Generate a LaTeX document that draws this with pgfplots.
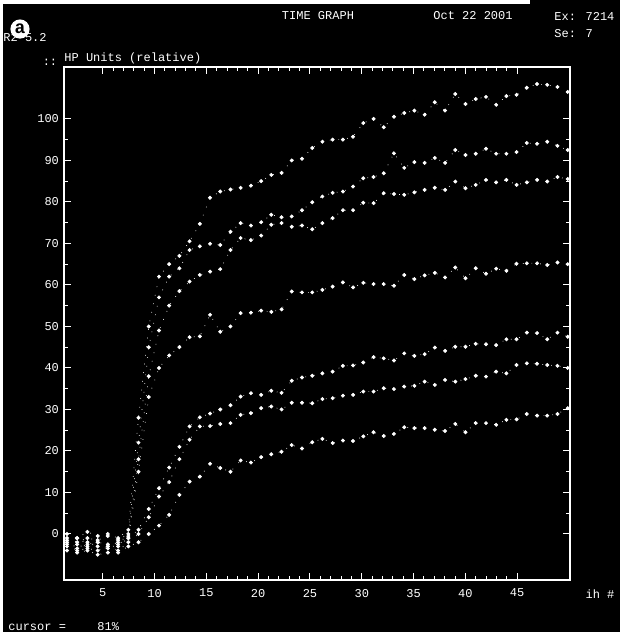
\documentclass[border=0pt]{standalone}
\usepackage{pgfplots}
\pgfplotsset{compat=1.18}
\usepackage{pgfplotstable}
\usepackage{fontspec}
\setmainfont{Liberation Mono}

% relative HP units of 7 traces
\pgfplotstableread{
x     A     B     C     D     E     F     G
1.55  0     -1    -2    -3    -1.5  -2.5  -4
2.53  -1    -2    -1    -2.5  -3.5  -4    -4.5
3.52  0.5   -1    -2.5  -3    -2    -3.5  -4
4.51  -0.5  -1.5  -2    -2    -3    -4    -5
5.49  0     -0.5  -3    -2.5  -3.5  -3    -4.5
6.48  -1    -1.5  -2    -3    -2.5  -4    -4.5
7.47  1     0     -0.5  -1    -1    -2    -3
8.45  28    22    18    15    1     0     -2
9.44  50    45    38    33    6     4     0
10.43 62    57    49    40    11    9     2
11.41 65    62    55    43    16    12.5  4.6
12.40 67    64    58.5  45    21    18    9.4
13.38 70.5  68.4  60.8  47.4  25.9  22.7  12.6
14.37 74.7  69.3  62.4  47.6  28.1  25.9  13.8
15.36 81    69.9  63.2  52.8  29    26    16.9
16.34 82.5  69.6  63.8  48.7  30    26.5  15.9
17.33 83    72.8  68.4  50    31    26.7  15
18.31 83.4  74.9  71.3  53.2  33.1  28.7  17.7
19.30 83.9  74.3  70.8  53.3  33.9  29.1  17.2
20.29 85    75.1  71.9  53.8  33.5  30.3  18.5
21.27 86.5  76.9  74.5  53.5  34.5  30.7  19.2
22.26 87    76.3  74.9  54.1  34    30    19.8
23.24 90    76.5  74    58.4  36.9  31.6  21.4
24.23 90.4  78    74.3  58.2  37.7  31.6  20.6
25.22 93    79.9  73.4  58.2  38.1  31.5  22.1
26.20 94.5  81.3  74.9  58.8  38.7  32.5  22.9
27.19 95    82.2  76.1  59.6  39.1  32.7  21.9
28.18 95    82.5  78    60.6  40.5  33.3  22.5
29.16 95.7  83.7  78    59.4  40.6  33.5  22.4
30.15 99    85.7  79.8  60.5  41.3  34.3  23.5
31.14 100   86    79.7  60.2  42.6  34.3  24.5
32.12 98    86.9  82.1  60.2  42.3  35.1  23.6
33.11 100.5 91.7  81.9  59.8  41.8  34.9  24.1
34.10 101.4 88.2  81.7  62.4  43.5  35.5  25.7
35.08 102   89.6  82.3  61.4  42.9  35.7  25.5
36.07 101   89.4  82.9  62.3  43.3  36.7  25.5
37.05 104   90.6  83.4  62.9  44.9  35.9  25.1
38.04 102   89.4  82.9  61.8  44.1  37.1  24.8
39.03 106   92.5  84.9  64.2  45.1  36.7  26.5
40.01 103.6 91.3  83.3  61.6  45.1  37.3  24.5
41.00 104.8 91.6  84.1  64    45.8  38.1  26.7
41.99 105.3 92.8  85.3  62.7  45.7  37.9  26.7
42.97 103.4 91.6  84.7  63.9  45.5  39.1  26.3
43.96 105.5 91.6  85.3  63.4  46.9  38.7  27.5
44.94 105.8 92    84.1  65.1  46.9  40.7  27.6
45.93 107.5 94.2  84.7  65.2  48.5  41.1  28.9
46.92 108.4 94    85.3  65.2  48.4  41    28.5
47.90 108.2 94.5  84.9  64.8  46.9  40.7  28.5
48.89 107.7 93.5  86    65.4  48.5  40.5  28.9
49.88 106.5 92.5  85.5  65    47.5  40    30.3
}\timegraph

\begin{document}
\begin{tikzpicture}
\fill[black] (0,0) rectangle (310pt,-316pt);
\fill[white] (0,0) rectangle (1.5pt,-316pt);
\fill[white] (0,0) rectangle (265pt,-2pt);

\begin{axis}[
    at={(32pt,-290pt)}, anchor=south west,
    scale only axis,
    width=253pt, height=256.5pt,
    xmin=1.26, xmax=50.1,
    ymin=-11.1, ymax=112.5,
    xtick={5,10,...,45},
    ytick={0,10,...,100},
    minor x tick num=4,
    minor y tick num=1,
    tick align=inside,
    major tick length=3.5pt,
    minor tick length=2pt,
    axis line style={white, line width=0.8pt},
    every tick/.style={white, line width=0.5pt},
    tick label style={white, font=\fontsize{6}{7}\selectfont},
    yticklabel style={xshift=1pt},
    /pgf/number format/assume math mode=true,
    xticklabel style={yshift=-1pt},
    trace/.style={white, loosely dotted, line width=0.35pt,
        mark=*, mark size=0.8pt, mark options={solid}},
]
\addplot[trace] table[x=x, y=A] {\timegraph};
\addplot[trace] table[x=x, y=B] {\timegraph};
\addplot[trace] table[x=x, y=C] {\timegraph};
\addplot[trace] table[x=x, y=D] {\timegraph};
\addplot[trace] table[x=x, y=E] {\timegraph};
\addplot[trace] table[x=x, y=F] {\timegraph};
\addplot[trace] table[x=x, y=G] {\timegraph};
\end{axis}

% screen header and footer text
\begin{scope}[every node/.style={white, font=\fontsize{6}{7}\selectfont, inner sep=0pt}]
\node at (159pt,-8pt) {TIME GRAPH};
\node at (236.5pt,-8pt) {Oct 22 2001};
\node[anchor=west] at (277pt,-8pt) {Ex: 7214};
\node[anchor=west] at (277pt,-17pt) {Se: 7};
\node[anchor=west] at (1.5pt,-19pt) {R2 5.2};
\node at (25pt,-31pt) {::};
\node[anchor=west] at (32pt,-30pt) {\underline{HP Units (relative)}};
\node at (300pt,-297pt) {ih \#};
\node[anchor=west] at (4pt,-313.5pt) {cursor =};
\node[anchor=west] at (48.5pt,-313.5pt) {81\%};
\end{scope}
\fill[white] (10pt,-14.5pt) circle (4.8pt);
\node[black, font=\fontsize{9}{9}\selectfont\bfseries] at (10pt,-14.5pt) {a};

\pgfresetboundingbox
\path[use as bounding box] (0,0) rectangle (310pt,-316pt);
\end{tikzpicture}
\end{document}
